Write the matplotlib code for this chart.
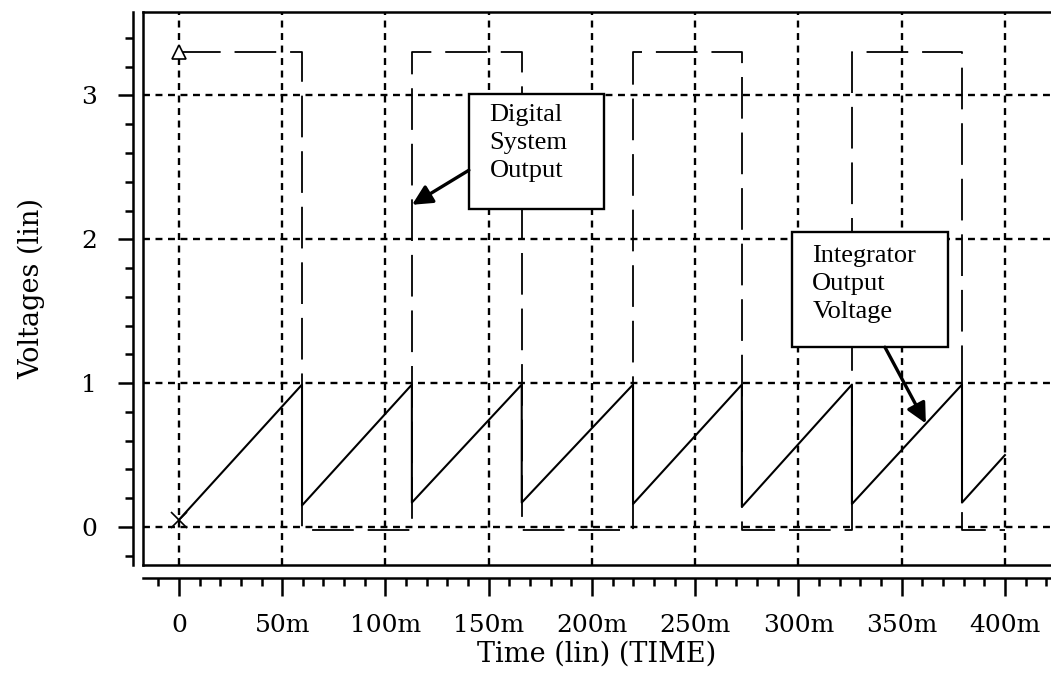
#!/usr/bin/env python3
"""
Integrator output voltage and digital system output vs time
(SPICE-style transient plot, lin/lin axes).
"""
import matplotlib
matplotlib.use("Agg")
import matplotlib.pyplot as plt
from matplotlib.patches import Rectangle
from matplotlib.ticker import MultipleLocator

plt.rcParams["lines.scale_dashes"] = False

# -----------------------------------------------------------
# Data (time in ms, voltages in V)
# -----------------------------------------------------------
t_integrator = [0.0, 59.6, 59.6, 112.8, 112.8, 166.0, 166.0, 219.9,
                219.9, 272.6, 272.6, 325.9, 325.9, 379.2, 379.2, 400.0]
v_integrator = [0.05, 0.99, 0.15, 0.99, 0.17, 0.99, 0.17, 0.99,
                0.16, 0.99, 0.14, 0.99, 0.16, 0.99, 0.17, 0.50]

t_digital = [0.0, 59.6, 59.6, 112.8, 112.8, 166.0, 166.0, 219.9,
             219.9, 272.6, 272.6, 325.9, 325.9, 379.2, 379.2, 400.0]
v_digital = [3.3, 3.3, -0.02, -0.02, 3.3, 3.3, -0.02, -0.02,
             3.3, 3.3, -0.02, -0.02, 3.3, 3.3, -0.02, -0.02]

x_major = [0, 50, 100, 150, 200, 250, 300, 350, 400]
x_labels = ["0", "50m", "100m", "150m", "200m", "250m", "300m", "350m", "400m"]
y_major = [0, 1, 2, 3]

# -----------------------------------------------------------
# Plot
# -----------------------------------------------------------
fig = plt.figure(figsize=(10.51, 6.87), dpi=100)
ax = fig.add_axes([143 / 1051, 1 - 565 / 687, 908 / 1051, 553 / 687])
ax.set_xlim(-17.4, 422.3)
ax.set_ylim(-0.264, 3.58)

# dashed grid at the major ticks
for x in x_major:
    ax.axvline(x, color="black", lw=1.7, ls=(0, (5, 4)), zorder=1)
for y in y_major:
    ax.axhline(y, color="black", lw=1.7, ls=(0, (5, 4)), zorder=1)

# traces
ax.plot(t_digital, v_digital, color="black", lw=1.3,
        ls=(0, (30, 10)), zorder=3)
ax.plot(t_integrator, v_integrator, color="black", lw=1.5, zorder=3)
ax.plot(t_digital[0], v_digital[0], marker="^", ms=10, mfc="white",
        mec="black", mew=1.2, zorder=4)
ax.plot(t_integrator[0], v_integrator[0], marker="x", ms=11,
        color="black", mew=1.2, zorder=4)

# call-out boxes
ann_font = dict(family="Liberation Serif", fontsize=19, color="black")
ax.add_patch(Rectangle((140.4, 2.21), 65.4, 0.80, facecolor="white",
                       edgecolor="black", lw=1.7, zorder=5))
ax.text(150.4, 2.94, "Digital\nSystem\nOutput", va="top", ha="left",
        linespacing=1.35, zorder=6, **ann_font)
ax.annotate("", xy=(112.9, 2.24), xytext=(140.4, 2.48),
            arrowprops=dict(arrowstyle="-|>", lw=2.4, color="black",
                            mutation_scale=30, shrinkA=0, shrinkB=0),
            zorder=6)

ax.add_patch(Rectangle((296.8, 1.25), 75.6, 0.80, facecolor="white",
                       edgecolor="black", lw=1.7, zorder=5))
ax.text(306.7, 1.96, "Integrator\nOutput\nVoltage", va="top", ha="left",
        linespacing=1.35, zorder=6, **ann_font)
ax.annotate("", xy=(361.7, 0.72), xytext=(341.9, 1.25),
            arrowprops=dict(arrowstyle="-|>", lw=2.4, color="black",
                            mutation_scale=30, shrinkA=0, shrinkB=0),
            zorder=6)

# frame: inner box lines + offset tick axes
for side in ["left", "bottom", "top"]:
    ax.spines[side].set_linewidth(1.8)
ax.spines["right"].set_visible(False)
ax.spines["left"].set_position(("outward", 7))
ax.spines["bottom"].set_position(("outward", 9))
ax.plot([0, 0], [0, 1], transform=ax.transAxes, color="black", lw=1.8,
        clip_on=False, zorder=2)
ax.plot([0, 1], [0, 0], transform=ax.transAxes, color="black", lw=1.8,
        clip_on=False, zorder=2)

# ticks
ax.set_xticks(x_major)
ax.set_xticklabels(x_labels)
ax.xaxis.set_minor_locator(MultipleLocator(10))
ax.set_yticks(y_major)
ax.yaxis.set_minor_locator(MultipleLocator(0.2))
ax.tick_params(which="major", direction="out", length=13, width=1.8,
               labelsize=18, pad=13)
ax.tick_params(which="minor", direction="out", length=6, width=1.8)
ax.tick_params(axis="y", which="major", length=11, pad=15)
for lab in ax.get_xticklabels() + ax.get_yticklabels():
    lab.set_family("DejaVu Serif")

ax.set_xlabel("Time (lin) (TIME)", family="DejaVu Serif", fontsize=19.5,
              labelpad=3)
ax.set_ylabel("Voltages (lin)", family="DejaVu Serif", fontsize=19.5,
              labelpad=26)

fig.savefig("out.png", dpi=100)
